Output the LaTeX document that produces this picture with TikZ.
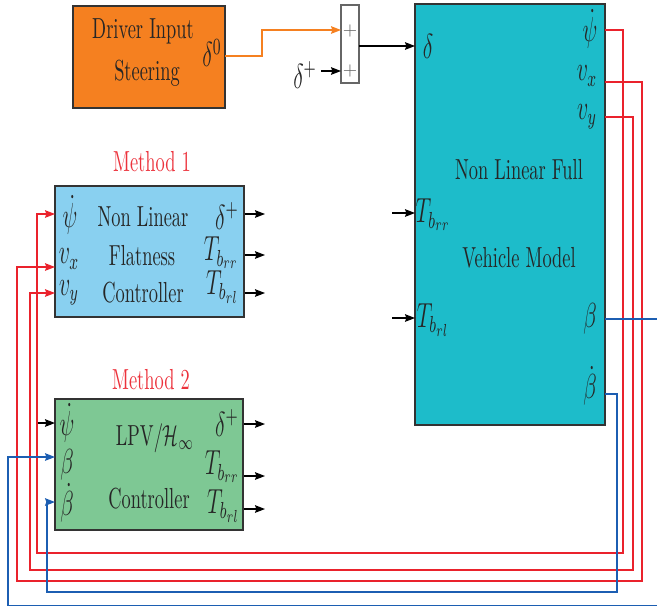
\documentclass[tikz,border=0pt]{standalone}
\usepackage{amsmath,amssymb}
\usepackage{graphicx}
\usetikzlibrary{arrows.meta}
\definecolor{drvorange}{RGB}{245,128,32}
\definecolor{flatblue}{RGB}{137,208,240}
\definecolor{lpvgreen}{RGB}{126,200,148}
\definecolor{vehcyan}{RGB}{29,188,202}
\definecolor{linered}{RGB}{234,34,44}
\definecolor{lineblue}{RGB}{28,94,178}
\definecolor{titlered}{RGB}{236,50,60}
\newcommand{\tallt}[1]{\scalebox{0.92}[1.45]{#1}}
\begin{document}
\begin{tikzpicture}[x=0.5pt,y=-0.5pt,
    blk/.style={draw=black!80,line width=0.7pt,inner sep=0pt},
    lbl/.style={inner sep=0pt,font=\large,text=black!85},
    txt/.style={inner sep=0pt,text=black!85},
    sig/.style={line width=0.6pt,-{Stealth[length=5pt,width=3.8pt,inset=0.7pt]}},
    fbred/.style={sig,linered},
    fbblue/.style={sig,lineblue}]
  \path[use as bounding box,clip] (0,0) rectangle (657,607);

  % blocks
  \node[blk,fill=drvorange,minimum width=76pt,minimum height=51pt] (drv) at (149,57) {};
  \node[blk,draw=black!60,fill=white,minimum width=9pt,minimum height=39pt] (sum) at (350,44) {};
  \node[blk,fill=vehcyan,minimum width=95pt,minimum height=210.5pt] (veh) at (510,214.5) {};
  \node[blk,fill=flatblue,minimum width=94.5pt,minimum height=65.5pt] (flat) at (149.5,251.5) {};
  \node[blk,fill=lpvgreen,minimum width=94pt,minimum height=65.5pt] (lpv) at (149,464.5) {};

  % driver and sum
  \node[txt] (drv-t1) at (143,31) {\tallt{Driver Input}};
  \node[txt] (drv-t2) at (147,73) {\tallt{Steering}};
  \node[lbl] (drv-d0) at (212,53) {\tallt{$\delta^0$}};
  \node[txt,font=\small,text=black!60] (sum-a) at (350,31) {$+$};
  \node[txt,font=\small,text=black!60] (sum-b) at (350,71) {$+$};
  \node[lbl] (dplus) at (305,75) {\tallt{$\delta^+$}};

  % vehicle model
  \node[txt] (veh-t1) at (519,170) {\tallt{Non Linear Full}};
  \node[txt] (veh-t2) at (519,258) {\tallt{Vehicle Model}};
  \node[lbl] (veh-d) at (428,46) {\tallt{$\delta$}};
  \node[lbl] (veh-trr) at (433,215) {\tallt{$T_{b_{rr}}$}};
  \node[lbl] (veh-trl) at (433,320) {\tallt{$T_{b_{rl}}$}};
  \node[lbl] (veh-psi) at (590,29) {\tallt{$\dot\psi$}};
  \node[lbl] (veh-vx) at (587,76) {\tallt{$v_x$}};
  \node[lbl] (veh-vy) at (587,117) {\tallt{$v_y$}};
  \node[lbl] (veh-b) at (590,319) {\tallt{$\beta$}};
  \node[lbl] (veh-db) at (590,386) {\tallt{$\dot\beta$}};

  % method 1
  \node[txt,text=titlered] (m1) at (152,162) {\tallt{Method 1}};
  \node[txt] (flat-t1) at (143,217) {\tallt{Non Linear}};
  \node[txt] (flat-t2) at (142,256) {\tallt{Flatness}};
  \node[txt] (flat-t3) at (143,293) {\tallt{Controller}};
  \node[lbl] (flat-psi) at (70,215) {\tallt{$\dot\psi$}};
  \node[lbl] (flat-vx) at (69,259) {\tallt{$v_x$}};
  \node[lbl] (flat-vy) at (69,293) {\tallt{$v_y$}};
  \node[lbl,anchor=east] (flat-dp) at (239,216) {\tallt{$\delta^+$}};
  \node[lbl,anchor=east] (flat-trr) at (239,253) {\tallt{$T_{b_{rr}}$}};
  \node[lbl,anchor=east] (flat-trl) at (239,287) {\tallt{$T_{b_{rl}}$}};

  % method 2
  \node[txt,text=titlered] (m2) at (151,380) {\tallt{Method 2}};
  \node[txt] (lpv-t1) at (155,438) {\tallt{LPV/$\mathcal{H}_\infty$}};
  \node[txt] (lpv-t2) at (149,499) {\tallt{Controller}};
  \node[lbl] (lpv-psi) at (67,423) {\tallt{$\dot\psi$}};
  \node[lbl] (lpv-b) at (67,465) {\tallt{$\beta$}};
  \node[lbl] (lpv-db) at (67,503) {\tallt{$\dot\beta$}};
  \node[lbl,anchor=east] (lpv-dp) at (239,423) {\tallt{$\delta^+$}};
  \node[lbl,anchor=east] (lpv-trr) at (240,467) {\tallt{$T_{b_{rr}}$}};
  \node[lbl,anchor=east] (lpv-trl) at (240,506) {\tallt{$T_{b_{rl}}$}};

  % ports
  \coordinate (drv-out) at (225,56);
  \coordinate (sum-in1) at (341,30);
  \coordinate (sum-in2) at (341,71);
  \coordinate (sum-out) at (359,46);
  \coordinate (veh-in) at (415,46);
  \coordinate (veh-in-rr) at (415,213);
  \coordinate (veh-in-rl) at (415,318);
  \coordinate (src-rr) at (392,213);
  \coordinate (src-rl) at (392,318);
  \coordinate (veh-o-psi) at (605,30);
  \coordinate (veh-o-vx) at (605,82);
  \coordinate (veh-o-vy) at (605,117);
  \coordinate (veh-o-b) at (605,319);
  \coordinate (veh-o-db) at (605,394);
  \coordinate (flat-i-psi) at (55,214);
  \coordinate (flat-i-vx) at (55,267);
  \coordinate (flat-i-vy) at (55,293);
  \coordinate (lpv-i-psi) at (55,423);
  \coordinate (lpv-i-b) at (55,457);
  \coordinate (lpv-i-db) at (55,502);
  \coordinate (src-psi) at (37,423);

  % signals
  \draw[sig,drvorange] (drv-out) -| (262,30) -- (sum-in1);
  \draw[sig,shorten <=2pt] (dplus.east |- sum-in2) -- (sum-in2);
  \draw[sig] (sum-out) -- (veh-in);
  \draw[sig] (src-rr) -- (veh-in-rr);
  \draw[sig] (src-rl) -- (veh-in-rl);
  \draw[sig] (src-psi) -- (lpv-i-psi);
  \foreach \y/\n in {214/dp,255/trr,293/trl}{
    \coordinate (flat-o-\n) at (265,\y);
    \draw[sig] (flat.east |- flat-o-\n) -- (flat-o-\n);
  }
  \foreach \y/\n in {424/dp,476/trr,509/trl}{
    \coordinate (lpv-o-\n) at (265,\y);
    \draw[sig] (lpv.east |- lpv-o-\n) -- (lpv-o-\n);
  }

  % feedback
  \draw[fbred] (veh-o-psi) -| (623,553) -| (37,214) -- (flat-i-psi);
  \draw[fbred] (veh-o-vx) -| (642,581) -| (17,267) -- (flat-i-vx);
  \draw[fbred] (veh-o-vy) -| (633,570) -| (30,293) -- (flat-i-vy);
  \draw[fbblue] (veh-o-b) -| (659,605.5) -| (8,457) -- (lpv-i-b);
  \draw[fbblue] (veh-o-db) -| (617,592) -| (47,502) -- (lpv-i-db);
\end{tikzpicture}
\end{document}
